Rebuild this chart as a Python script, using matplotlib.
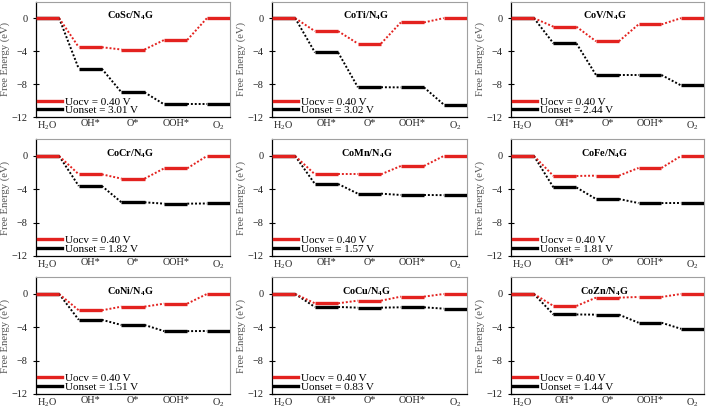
import matplotlib
matplotlib.use("Agg")
import matplotlib.pyplot as plt
import numpy as np

plt.rcParams["font.family"] = ["Liberation Serif", "DejaVu Serif"]
plt.rcParams["mathtext.fontset"] = "custom"
plt.rcParams["mathtext.rm"] = "Liberation Serif"
plt.rcParams["mathtext.bf"] = "Liberation Serif:bold"

steps = ["H$_2$O", "OH*", "O*", "OOH*", "O$_2$"]
catalysts = ["CoSc", "CoTi", "CoV", "CoCr", "CoMn", "CoFe", "CoNi", "CoCu", "CoZn"]
u_ocv = 0.40
u_onset = [3.01, 3.02, 2.44, 1.82, 1.57, 1.81, 1.51, 0.83, 1.44]

# free energy levels (eV) at U = Uocv
g_ocv = [
    [0, -3.52, -3.80, -2.64, 0],
    [0, -1.58, -3.08, -0.52, 0],
    [0, -1.04, -2.80, -0.76, 0],
    [0, -2.20, -2.72, -1.48, 0],
    [0, -2.20, -2.20, -1.20, 0],
    [0, -2.40, -2.36, -1.44, 0],
    [0, -1.96, -1.52, -1.16, 0],
    [0, -1.12, -0.80, -0.32, 0],
    [0, -1.44, -0.44, -0.36, 0],
]
# free energy levels (eV) at U = Uonset
g_onset = [
    [0, -6.12, -8.98, -10.44, -10.44],
    [0, -4.15, -8.36, -8.38, -10.46],
    [0, -3.06, -6.88, -6.88, -8.14],
    [0, -3.60, -5.56, -5.72, -5.70],
    [0, -3.36, -4.52, -4.68, -4.70],
    [0, -3.78, -5.16, -5.65, -5.64],
    [0, -3.10, -3.72, -4.46, -4.44],
    [0, -1.56, -1.64, -1.60, -1.76],
    [0, -2.46, -2.48, -3.45, -4.18],
]

RED = "#e3221f"
W = 0.54  # width of a level bar in step units

lefts = [0.0508, 0.3836, 0.7207]
widths = [0.2736, 0.2750, 0.2722]
bottoms = [0.7132, 0.3741, 0.0367]
heights = [0.2829, 0.2853, 0.2853]

fig = plt.figure(figsize=(7.09, 4.09), dpi=100)


def draw_path(ax, levels, color):
    x = np.arange(len(levels))
    ax.hlines(levels, x, x + W, color=color, lw=2.4, zorder=3)
    for i in range(len(levels) - 1):
        ax.plot([x[i] + W, x[i + 1]], [levels[i], levels[i + 1]],
                color=color, lw=1.4, ls=(0, (1, 1)), zorder=2)


for k, name in enumerate(catalysts):
    r, c = divmod(k, 3)
    ax = fig.add_axes([lefts[c], bottoms[r], widths[c], heights[r]])
    draw_path(ax, g_onset[k], "black")
    draw_path(ax, g_ocv[k], RED)

    ax.set_xlim(0, len(steps) - 1 + W)
    ax.set_ylim(-12, 2)
    ax.set_yticks([0, -4, -8, -12])
    ax.set_xticks(np.arange(len(steps)) + W / 2)
    ax.set_xticklabels(steps)
    ax.tick_params(axis="x", length=0, pad=1.5, labelsize=7.4, colors="#222222")
    ax.tick_params(axis="y", direction="inout", length=4, width=0.8,
                   pad=4, labelsize=7.4, labelcolor="#222222")
    for side in ["top", "right"]:
        ax.spines[side].set_color("#a0a0a0")
        ax.spines[side].set_linewidth(0.8)
    for side in ["left", "bottom"]:
        ax.spines[side].set_color("black")
        ax.spines[side].set_linewidth(0.9)

    ax.set_ylabel("Free Energy (eV)", fontsize=7.7, color="#555555")
    ax.yaxis.set_label_coords(-0.135, 0.5)
    ax.text(0.485, 0.88, name + r"/N$_\mathbf{4}$G", transform=ax.transAxes,
            ha="center", va="center", fontsize=7.4, fontweight="bold")

    ax.plot([], [], color=RED, lw=2.4, label="Uocv = %.2f V" % u_ocv)
    ax.plot([], [], color="black", lw=2.4, label="Uonset = %.2f V" % u_onset[k])
    ax.legend(loc="lower left", bbox_to_anchor=(0.0, 0.0), frameon=False,
              fontsize=8.0, handlelength=2.1, handletextpad=0.3,
              labelspacing=-0.12, borderpad=0.1, borderaxespad=0.1)

fig.savefig("out.png", dpi=100)
